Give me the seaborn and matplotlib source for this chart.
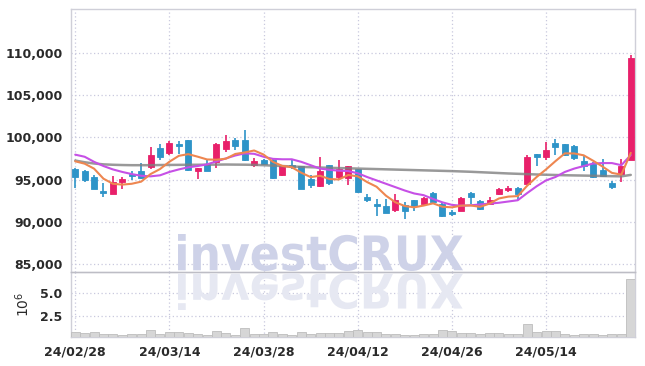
import matplotlib
matplotlib.use("Agg")
import matplotlib.pyplot as plt
import seaborn as sns
import numpy as np
import pandas as pd
from matplotlib.textpath import TextPath
from matplotlib.patches import PathPatch
from matplotlib.font_manager import FontProperties, fontManager
from matplotlib.transforms import Affine2D, IdentityTransform
from matplotlib.ticker import StrMethodFormatter

dates = ["24/02/28", "24/02/29", "24/03/04", "24/03/05", "24/03/06", "24/03/07", "24/03/08",
         "24/03/11", "24/03/12", "24/03/13", "24/03/14", "24/03/15", "24/03/18", "24/03/19",
         "24/03/20", "24/03/21", "24/03/22", "24/03/25", "24/03/26", "24/03/27", "24/03/28",
         "24/03/29", "24/04/01", "24/04/02", "24/04/03", "24/04/04", "24/04/05", "24/04/08",
         "24/04/09", "24/04/11", "24/04/12", "24/04/15", "24/04/16", "24/04/17", "24/04/18",
         "24/04/19", "24/04/22", "24/04/23", "24/04/24", "24/04/25", "24/04/26", "24/04/29",
         "24/04/30", "24/05/02", "24/05/03", "24/05/07", "24/05/08", "24/05/09", "24/05/10",
         "24/05/13", "24/05/14", "24/05/16", "24/05/17", "24/05/20", "24/05/21", "24/05/22",
         "24/05/23", "24/05/24", "24/05/27", "24/05/28"]

open_ = [96200, 96000, 95300, 93600, 93330, 94700, 95600, 95970, 96480, 98780,
         98190, 99170, 99640, 96020, 96880, 97120, 98580, 99640, 99640, 96770,
         97270, 97270, 95500, 96700, 96560, 95100, 94230, 96680, 95300, 95180,
         96210, 92930, 92060, 91820, 91350, 91940, 92530, 92060, 93400, 92140,
         91150, 91270, 93400, 92420, 92140, 93250, 93820, 94050, 94510, 97990,
         97670, 99330, 99170, 98930, 97160, 96800, 96090, 94640, 95620, 97360]
high = [96400, 96170, 95500, 94630, 95415, 95300, 96000, 97000, 98850, 99170,
        99530, 99560, 99700, 96400, 97480, 99330, 100320, 99960, 100830, 97550,
        97470, 97480, 96680, 97480, 96600, 95500, 97680, 96700, 97370, 96600,
        96250, 93330, 92740, 92740, 93330, 92340, 92530, 92930, 93520, 92340,
        91350, 92930, 93520, 92620, 92930, 94050, 94200, 94110, 97870, 98070,
        99450, 99850, 99250, 99050, 97750, 97080, 97480, 94790, 97480, 109720]
low = [94050, 94700, 93900, 92930, 93250, 93920, 94900, 95100, 96290, 97360,
       97870, 98070, 96000, 95110, 96000, 96370, 98260, 98460, 97160, 96480,
       96760, 95100, 95420, 96290, 93850, 94000, 94110, 94310, 94990, 94310,
       93400, 92340, 90640, 91030, 91150, 90370, 91270, 91940, 92220, 90560,
       90640, 91270, 92140, 91350, 92060, 93130, 93580, 92530, 94430, 96560,
       97270, 97870, 97750, 97360, 96010, 95220, 95300, 93920, 94700, 97280]
close = [95300, 95000, 93900, 93400, 94700, 95030, 95450, 95180, 97870, 97670,
         99370, 98970, 96170, 96370, 96010, 99250, 99530, 98970, 97270, 97160,
         96880, 95180, 96560, 96500, 93920, 94310, 95970, 94580, 96290, 96560,
         93520, 92540, 91820, 91030, 92620, 91270, 91820, 92850, 92340, 90640,
         90880, 92860, 92930, 91550, 92530, 93920, 93970, 93250, 97670, 97670,
         98460, 98850, 97870, 97590, 96560, 95300, 95380, 94110, 96560, 109440]

ma5 = [97160, 96880, 96290, 95100, 94500, 94400, 94500, 94750, 95650, 96240,
       97110, 97810, 98010, 97710, 97380, 97350, 97470, 98030, 98210, 98440,
       97960, 97090, 96610, 96460, 95810, 95290, 95450, 95060, 95010, 95540,
       95380, 94700, 94150, 93090, 92310, 91860, 91710, 91920, 92180, 91780,
       91710, 91910, 91930, 91770, 92150, 92760, 92980, 93040, 94270, 95300,
       96200, 97180, 98100, 98090, 97870, 97230, 96540, 95790, 95580, 98160]
ma20 = [97950, 97700, 97100, 96600, 96200, 95900, 95650, 95450, 95380, 95500,
        95900, 96200, 96450, 96600, 96800, 97150, 97500, 97850, 98100, 98050,
        97700, 97450, 97400, 97400, 97100, 96700, 96300, 96150, 96050, 96000,
        95750, 95300, 94900, 94500, 94100, 93700, 93350, 93150, 92700, 92300,
        92000, 91900, 91950, 92050, 92150, 92250, 92400, 92550, 93400, 94200,
        94900, 95300, 95900, 96300, 96600, 96900, 96950, 96950, 96700, 97900]
ma60 = [97250, 97050, 96900, 96800, 96750, 96720, 96700, 96700, 96700, 96720,
        96730, 96740, 96750, 96750, 96760, 96770, 96780, 96770, 96760, 96740,
        96700, 96650, 96600, 96550, 96500, 96460, 96420, 96390, 96360, 96330,
        96300, 96270, 96240, 96210, 96180, 96150, 96120, 96090, 96060, 96030,
        96000, 95960, 95920, 95870, 95820, 95770, 95720, 95680, 95640, 95600,
        95570, 95540, 95510, 95490, 95470, 95450, 95420, 95400, 95380, 95550]

# volume in millions
volume = [0.66, 0.55, 0.69, 0.47, 0.47, 0.33, 0.47, 0.47, 0.91, 0.40,
          0.69, 0.69, 0.58, 0.47, 0.36, 0.80, 0.58, 0.36, 1.10, 0.47,
          0.40, 0.69, 0.40, 0.33, 0.69, 0.47, 0.58, 0.58, 0.58, 0.80,
          0.91, 0.62, 0.69, 0.44, 0.40, 0.33, 0.33, 0.40, 0.47, 0.91,
          0.80, 0.58, 0.58, 0.47, 0.58, 0.58, 0.40, 0.47, 1.60, 0.66,
          0.73, 0.73, 0.40, 0.33, 0.47, 0.40, 0.33, 0.40, 0.47, 6.60]

UP = "#e8206a"
DOWN = "#2e94c8"
GRID = "#c9c9de"
TXT = "#2a2a2a"

df = pd.DataFrame({"i": np.arange(len(dates)), "date": dates, "open": open_, "high": high,
                   "low": low, "close": close, "ma5": ma5, "ma20": ma20, "ma60": ma60,
                   "vol": volume})

sns.set_style("white")
plt.rcParams["font.family"] = ["DejaVu Sans"]

# narrow font for the tick labels, if there is one
names = {f.name for f in fontManager.ttflist}
TICK_FAMILY = "Liberation Sans Narrow" if "Liberation Sans Narrow" in names else "DejaVu Sans"
TICK_SIZE = 11 if TICK_FAMILY != "DejaVu Sans" else 9

fig = plt.figure(figsize=(6.45, 3.66), dpi=100)
ax = fig.add_axes([71 / 645, 1 - 272 / 366, 564 / 645, 263 / 366])
axv = fig.add_axes([71 / 645, 1 - 337 / 366, 564 / 645, 65 / 366], sharex=ax)

# watermark with reflection
fp = FontProperties(family="DejaVu Sans", weight="bold")
tp = TextPath((0, 0), "investCRUX", size=50, prop=fp)
ext = tp.get_extents()
sx = 285 / ext.width
sy = 37 / ext.height
main = Affine2D().translate(-ext.x0, -ext.y0).scale(sx, sy).translate(178, 366 - 271)
refl = Affine2D().translate(-ext.x0, -ext.y0).scale(sx, -sy).translate(178, 366 - 273)
fig.patches.append(PathPatch(tp, transform=main + IdentityTransform(), facecolor="#ced2e8",
                             edgecolor="none", zorder=0.5, figure=fig))
fig.patches.append(PathPatch(tp, transform=refl + IdentityTransform(), facecolor="#e6e8f2",
                             edgecolor="none", zorder=0.5, figure=fig))
ax.patch.set_alpha(0)
axv.patch.set_alpha(0)

# candles
for r in df.itertuples():
    c = UP if r.close >= r.open else DOWN
    ax.vlines(r.i, r.low, r.high, color=c, linewidth=1.2, zorder=3)
    lo = min(r.open, r.close)
    h = max(abs(r.close - r.open), 80)
    ax.bar(r.i, h, bottom=lo, width=0.64, color=c, edgecolor=c, linewidth=0.6, zorder=4)

sns.lineplot(data=df, x="i", y="ma60", ax=ax, color="#808080", linewidth=1.8, alpha=0.8, zorder=5)
sns.lineplot(data=df, x="i", y="ma20", ax=ax, color="#c650e6", linewidth=1.5, zorder=6)
sns.lineplot(data=df, x="i", y="ma5", ax=ax, color="#ee8650", linewidth=1.5, zorder=7)

ax.set_ylim(84050, 115200)
ax.set_yticks([85000, 90000, 95000, 100000, 105000, 110000])
ax.yaxis.set_major_formatter(StrMethodFormatter("{x:,.0f}"))
ax.set_xlim(-0.45, 59.45)
ax.set_xticks(range(0, 60, 10))
ax.tick_params(axis="x", labelbottom=False, length=0)
ax.tick_params(axis="y", length=0, pad=6)
ax.set_xlabel("")
ax.set_ylabel("")
ax.grid(True, color=GRID, linestyle=(0, (1, 2)), linewidth=0.9)

# volume
sns.barplot(x=df["i"], y=df["vol"], ax=axv, color="#d6d6d6", width=0.96,
            edgecolor="#bdbdbd", linewidth=0.6, native_scale=True, zorder=3)
axv.set_ylim(0.11, 7.35)
axv.set_yticks([2.5, 5.0])
axv.set_yticklabels(["2.5", "5.0"])
axv.set_xticks(range(0, 60, 10))
axv.set_xticklabels([dates[k] for k in range(0, 60, 10)])
axv.set_xlim(-0.45, 59.45)
axv.tick_params(length=0, pad=6)
axv.set_xlabel("")
axv.set_ylabel(r"$10^6$", fontsize=10, color=TXT, labelpad=6)
axv.grid(True, color=GRID, linestyle=(0, (1, 2)), linewidth=0.9)

for a in (ax, axv):
    for lab in a.get_xticklabels() + a.get_yticklabels():
        lab.set_fontfamily(TICK_FAMILY)
        lab.set_fontweight("bold")
        lab.set_fontsize(TICK_SIZE)
        lab.set_color(TXT)
    for s in a.spines.values():
        s.set_color("#cfcfd8")
        s.set_linewidth(1)
axv.spines["top"].set_color("#bdbdc5")

fig.savefig("out.png", dpi=100)
